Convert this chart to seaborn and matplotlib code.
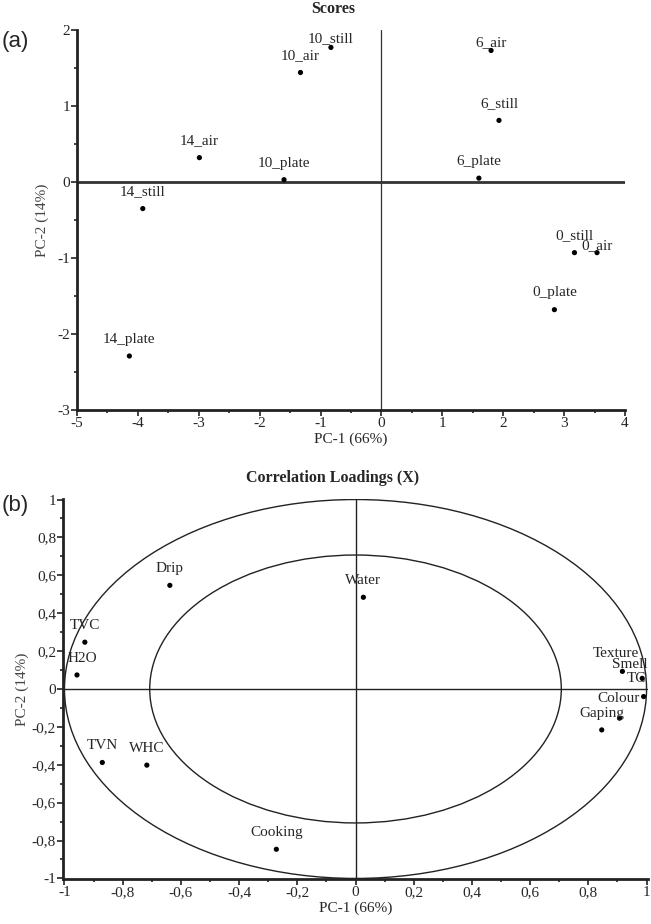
import matplotlib
matplotlib.use("Agg")
import matplotlib.pyplot as plt
from matplotlib.patches import Circle
from matplotlib.ticker import MultipleLocator
import pandas as pd
import seaborn as sns

# Scores (panel a)
score_names = ['10_still', '10_air', '6_air', '6_still', '14_air', '10_plate',
               '6_plate', '14_still', '0_still', '0_air', '0_plate', '14_plate']
score_pc1 = [-0.83, -1.33, 1.80, 1.93, -2.99, -1.60, 1.60, -3.92, 3.17, 3.54, 2.84, -4.14]
score_pc2 = [1.77, 1.44, 1.73, 0.81, 0.32, 0.03, 0.05, -0.35, -0.93, -0.93, -1.68, -2.29]

# Correlation loadings (panel b)
load_names = ['Drip', 'Water', 'TVC', 'H2O', 'TVN', 'WHC', 'Cooking',
              'Texture', 'Smell', 'TC', 'Colour', 'Gaping']
load_pc1 = [-0.638, 0.027, -0.930, -0.957, -0.870, -0.717, -0.272,
            0.917, 0.985, 0.990, 0.907, 0.846]
load_pc2 = [0.547, 0.484, 0.247, 0.074, -0.388, -0.402, -0.846,
            0.093, 0.056, -0.040, -0.154, -0.216]

b_ticks = [-1, -0.8, -0.6, -0.4, -0.2, 0, 0.2, 0.4, 0.6, 0.8, 1]
b_ticklabels = ['-1', '-0,8', '-0,6', '-0,4', '-0,2', '0', '0,2', '0,4', '0,6', '0,8', '1']

scores = pd.DataFrame({'name': score_names, 'pc1': score_pc1, 'pc2': score_pc2})
loads = pd.DataFrame({'name': load_names, 'pc1': load_pc1, 'pc2': load_pc2})

sns.set_style('ticks')
plt.rcParams['font.family'] = ['Liberation Serif', 'DejaVu Serif']
plt.rcParams['axes.unicode_minus'] = False
plt.rcParams['xtick.major.size'] = 4
plt.rcParams['ytick.major.size'] = 4
plt.rcParams['xtick.minor.size'] = 2.5
plt.rcParams['ytick.minor.size'] = 2.5

fig = plt.figure(figsize=(6.51, 9.24), dpi=100)
ax1 = fig.add_axes([0.1183, 0.5563, 0.8418, 0.4113])
ax2 = fig.add_axes([0.0968, 0.0487, 0.8986, 0.4113])

# label offsets in points (dx, dy), default (0, 12)
a_off = {'10_still': (0, 6), '6_air': (0, 6), '0_air': (0, 5)}
b_off = {'Texture': (-5, 13), 'Smell': (-9, 10), 'TC': (-5, 13), 'Colour': (-1, 14),
         'H2O': (4, 12)}


def style_axes(ax):
    sns.despine(ax=ax)
    for s in ['left', 'bottom']:
        ax.spines[s].set_linewidth(2)
        ax.spines[s].set_color('#222222')
    ax.tick_params(which='both', direction='out', color='#222222', width=1.2,
                   labelsize=11, pad=1)


# ---- panel (a) ----
ax1.axhline(0, color='#333333', lw=2, zorder=1)
ax1.axvline(0, color='#333333', lw=0.9, zorder=1)
sns.scatterplot(data=scores, x='pc1', y='pc2', ax=ax1, color='black', s=14,
                edgecolor='none', zorder=3)
for n, x, y in zip(score_names, score_pc1, score_pc2):
    dx, dy = a_off.get(n, (0, 12))
    ax1.annotate(n, (x, y), xytext=(dx, dy), textcoords='offset points',
                 ha='center', va='center', fontsize=11)
ax1.set_xlim(-5, 4)
ax1.set_ylim(-3, 2)
ax1.xaxis.set_major_locator(MultipleLocator(1))
ax1.xaxis.set_minor_locator(MultipleLocator(0.5))
ax1.yaxis.set_major_locator(MultipleLocator(1))
ax1.yaxis.set_minor_locator(MultipleLocator(0.5))
style_axes(ax1)
ax1.set_xlabel('PC-1 (66%)', fontsize=11, labelpad=2)
ax1.set_ylabel('PC-2 (14%)', fontsize=11, color='#444444', labelpad=6)

# ---- panel (b) ----
ax2.add_patch(Circle((0, 0), 1.0, fill=False, ec='#222222', lw=1.0, zorder=1))
ax2.add_patch(Circle((0, 0), 0.5 ** 0.5, fill=False, ec='#222222', lw=1.0, zorder=1))
ax2.plot([-1, 1], [0, 0], color='#222222', lw=1.0, zorder=1)
ax2.plot([0, 0], [-1, 1], color='#222222', lw=1.0, zorder=1)
sns.scatterplot(data=loads, x='pc1', y='pc2', ax=ax2, color='black', s=14,
                edgecolor='none', zorder=3)
for n, x, y in zip(load_names, load_pc1, load_pc2):
    dx, dy = b_off.get(n, (0, 12))
    ax2.annotate(n, (x, y), xytext=(dx, dy), textcoords='offset points',
                 ha='center', va='center', fontsize=11)
ax2.set_xlim(-1.005, 1.005)
ax2.set_ylim(-1.003, 1.003)
ax2.set_xticks(b_ticks)
ax2.set_xticklabels(b_ticklabels)
ax2.set_yticks(b_ticks)
ax2.set_yticklabels(b_ticklabels)
ax2.xaxis.set_minor_locator(MultipleLocator(0.1))
ax2.yaxis.set_minor_locator(MultipleLocator(0.1))
style_axes(ax2)
ax2.set_xlabel('PC-1 (66%)', fontsize=11, labelpad=2)
ax2.set_ylabel('PC-2 (14%)', fontsize=11, color='#444444', labelpad=2)

# titles and panel letters
fig.text(333 / 651, 1 - 9 / 924, 'Scores', ha='center', va='center',
         fontsize=11.5, fontweight='bold')
fig.text(333 / 651, 1 - 478 / 924, 'Correlation Loadings (X)', ha='center',
         va='center', fontsize=11.5, fontweight='bold')
fig.text(2 / 651, 1 - 42 / 924, '(a)', fontsize=16, va='center',
         family=['Liberation Sans', 'DejaVu Sans'])
fig.text(2 / 651, 1 - 505 / 924, '(b)', fontsize=16, va='center',
         family=['Liberation Sans', 'DejaVu Sans'])

fig.savefig('out.png', dpi=100, facecolor='white')
